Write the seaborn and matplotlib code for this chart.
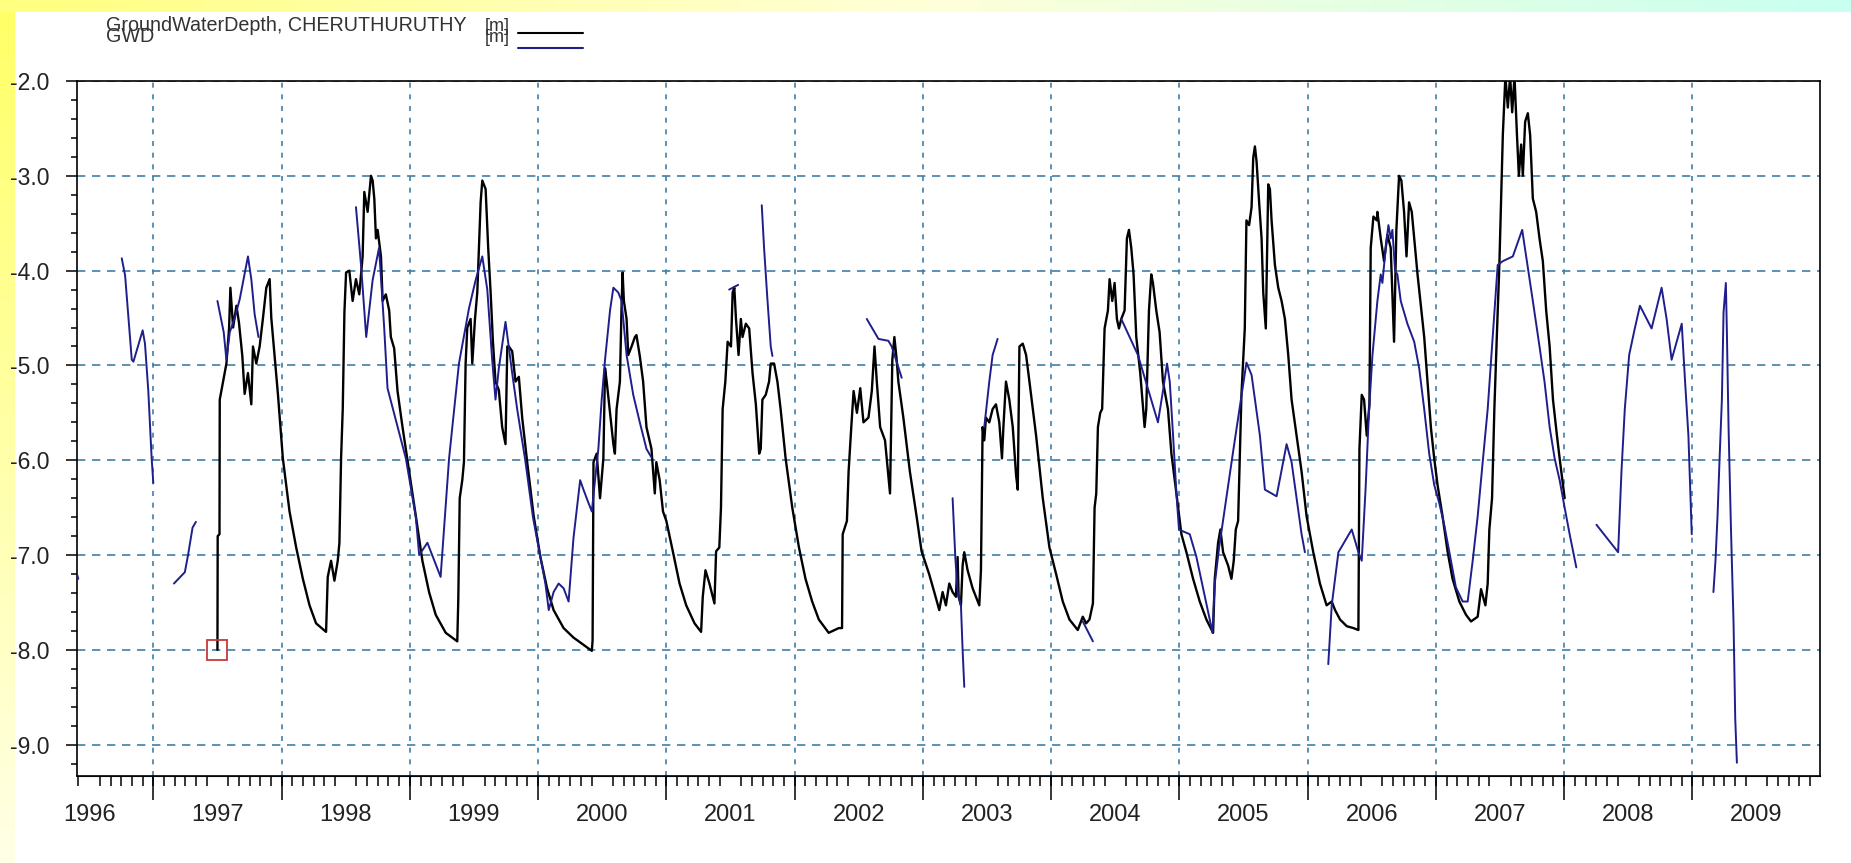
import numpy as np
import pandas as pd
import seaborn as sns
import matplotlib.pyplot as plt
import matplotlib.ticker as mtick
from matplotlib.lines import Line2D
from matplotlib.colors import LinearSegmentedColormap

# GroundWaterDepth, CHERUTHURUTHY (black, decimal years / metres)
cher_t = [1997.500, 1997.502, 1997.516, 1997.518, 1997.544, 1997.570, 1997.591, 1997.601, 1997.622, 1997.648,
          1997.668, 1997.694, 1997.712, 1997.738, 1997.764, 1997.777, 1997.803, 1997.829, 1997.855, 1997.881,
          1997.907, 1997.920, 1997.946, 1997.972, 1998.010, 1998.062, 1998.114, 1998.166, 1998.218, 1998.269,
          1998.347, 1998.360, 1998.386, 1998.412, 1998.438, 1998.451, 1998.464, 1998.477, 1998.490, 1998.503,
          1998.528, 1998.554, 1998.580, 1998.606, 1998.632, 1998.645, 1998.671, 1998.697, 1998.710, 1998.723,
          1998.736, 1998.749, 1998.775, 1998.788, 1998.813, 1998.839, 1998.852, 1998.878, 1998.904, 1998.943,
          1998.995, 1999.047, 1999.098, 1999.150, 1999.202, 1999.280, 1999.370, 1999.378, 1999.389, 1999.409,
          1999.422, 1999.435, 1999.448, 1999.474, 1999.487, 1999.508, 1999.526, 1999.552, 1999.565, 1999.591,
          1999.611, 1999.630, 1999.648, 1999.668, 1999.694, 1999.720, 1999.746, 1999.760, 1999.772, 1999.798,
          1999.824, 1999.850, 1999.876, 1999.915, 1999.966, 2000.018, 2000.070, 2000.121, 2000.199, 2000.276,
          2000.419, 2000.425, 2000.432, 2000.457, 2000.483, 2000.509, 2000.522, 2000.535, 2000.561, 2000.587,
          2000.599, 2000.612, 2000.638, 2000.651, 2000.659, 2000.669, 2000.690, 2000.703, 2000.729, 2000.755,
          2000.767, 2000.793, 2000.819, 2000.845, 2000.884, 2000.910, 2000.922, 2000.948, 2000.974, 2001.000,
          2001.052, 2001.103, 2001.155, 2001.220, 2001.271, 2001.284, 2001.305, 2001.336, 2001.375, 2001.388,
          2001.413, 2001.426, 2001.439, 2001.460, 2001.478, 2001.504, 2001.517, 2001.530, 2001.543, 2001.563,
          2001.581, 2001.594, 2001.620, 2001.646, 2001.672, 2001.698, 2001.724, 2001.736, 2001.749, 2001.775,
          2001.801, 2001.814, 2001.840, 2001.866, 2001.891, 2001.930, 2001.982, 2002.034, 2002.085, 2002.137,
          2002.189, 2002.266, 2002.344, 2002.370, 2002.375, 2002.408, 2002.421, 2002.442, 2002.460, 2002.486,
          2002.512, 2002.537, 2002.576, 2002.602, 2002.623, 2002.641, 2002.667, 2002.705, 2002.744, 2002.762,
          2002.778, 2002.796, 2002.809, 2002.848, 2002.899, 2002.951, 2002.990, 2003.049, 2003.089, 2003.128,
          2003.154, 2003.180, 2003.206, 2003.232, 2003.258, 2003.271, 2003.279, 2003.297, 2003.310, 2003.323,
          2003.349, 2003.388, 2003.440, 2003.453, 2003.466, 2003.479, 2003.492, 2003.518, 2003.544, 2003.570,
          2003.596, 2003.617, 2003.628, 2003.648, 2003.674, 2003.701, 2003.727, 2003.740, 2003.753, 2003.779,
          2003.805, 2003.831, 2003.883, 2003.935, 2003.987, 2004.039, 2004.091, 2004.143, 2004.208, 2004.247,
          2004.273, 2004.299, 2004.326, 2004.339, 2004.352, 2004.365, 2004.383, 2004.398, 2004.417, 2004.443,
          2004.456, 2004.477, 2004.495, 2004.513, 2004.529, 2004.547, 2004.573, 2004.591, 2004.607, 2004.625,
          2004.643, 2004.664, 2004.695, 2004.729, 2004.742, 2004.763, 2004.781, 2004.794, 2004.820, 2004.846,
          2004.872, 2004.911, 2004.938, 2004.977, 2005.016, 2005.055, 2005.107, 2005.159, 2005.211, 2005.263,
          2005.276, 2005.302, 2005.320, 2005.341, 2005.380, 2005.406, 2005.424, 2005.440, 2005.458, 2005.484,
          2005.510, 2005.523, 2005.544, 2005.563, 2005.576, 2005.589, 2005.602, 2005.622, 2005.641, 2005.654,
          2005.674, 2005.693, 2005.706, 2005.719, 2005.745, 2005.771, 2005.797, 2005.823, 2005.849, 2005.875,
          2005.914, 2005.953, 2005.992, 2006.044, 2006.096, 2006.148, 2006.188, 2006.214, 2006.253, 2006.305,
          2006.357, 2006.396, 2006.404, 2006.422, 2006.440, 2006.461, 2006.482, 2006.492, 2006.513, 2006.539,
          2006.544, 2006.570, 2006.596, 2006.622, 2006.648, 2006.674, 2006.692, 2006.713, 2006.731, 2006.752,
          2006.771, 2006.791, 2006.812, 2006.831, 2006.857, 2006.883, 2006.909, 2006.935, 2006.961, 2006.987,
          2007.013, 2007.052, 2007.091, 2007.130, 2007.183, 2007.235, 2007.274, 2007.326, 2007.352, 2007.386,
          2007.404, 2007.417, 2007.438, 2007.456, 2007.475, 2007.495, 2007.522, 2007.542, 2007.561, 2007.579,
          2007.595, 2007.613, 2007.631, 2007.647, 2007.665, 2007.678, 2007.696, 2007.717, 2007.735, 2007.756,
          2007.782, 2007.808, 2007.834, 2007.860, 2007.887, 2007.913, 2007.944, 2007.965, 2008.004]
cher_v = [-8.00, -6.80, -6.78, -5.36, -5.17, -4.98, -4.60, -4.18, -4.60, -4.37,
          -4.55, -4.90, -5.30, -5.08, -5.41, -4.80, -4.98, -4.80, -4.50, -4.18,
          -4.09, -4.50, -4.90, -5.31, -5.98, -6.54, -6.92, -7.25, -7.53, -7.72,
          -7.81, -7.23, -7.06, -7.27, -7.06, -6.87, -5.98, -5.46, -4.44, -4.02,
          -4.00, -4.32, -4.09, -4.25, -3.85, -3.17, -3.38, -3.00, -3.05, -3.24,
          -3.66, -3.57, -3.85, -4.32, -4.25, -4.42, -4.70, -4.82, -5.27, -5.65,
          -6.12, -6.59, -7.06, -7.39, -7.63, -7.82, -7.91, -7.46, -6.40, -6.21,
          -6.02, -4.98, -4.60, -4.51, -4.98, -4.51, -4.23, -3.28, -3.05, -3.14,
          -3.76, -4.23, -4.75, -5.17, -5.26, -5.65, -5.83, -4.80, -4.80, -4.85,
          -5.17, -5.12, -5.55, -6.02, -6.59, -7.02, -7.35, -7.58, -7.77, -7.87,
          -8.01, -7.90, -6.02, -5.93, -6.40, -5.98, -5.03, -5.17, -5.50, -5.83,
          -5.93, -5.46, -5.17, -4.37, -4.02, -4.32, -4.51, -4.89, -4.80, -4.70,
          -4.68, -4.90, -5.17, -5.65, -5.88, -6.35, -6.02, -6.21, -6.54, -6.64,
          -6.97, -7.30, -7.53, -7.72, -7.81, -7.44, -7.16, -7.30, -7.51, -6.96,
          -6.92, -6.50, -5.46, -5.17, -4.75, -4.80, -4.23, -4.18, -4.51, -4.89,
          -4.51, -4.70, -4.56, -4.61, -5.08, -5.41, -5.93, -5.88, -5.36, -5.31,
          -5.17, -4.98, -4.98, -5.17, -5.46, -5.98, -6.50, -6.92, -7.25, -7.49,
          -7.68, -7.82, -7.77, -7.77, -6.78, -6.64, -6.12, -5.65, -5.27, -5.50,
          -5.24, -5.60, -5.55, -5.27, -4.80, -5.17, -5.65, -5.79, -6.35, -4.94,
          -4.70, -4.94, -5.17, -5.55, -6.12, -6.59, -6.96, -7.20, -7.39, -7.58,
          -7.39, -7.53, -7.30, -7.39, -7.44, -7.02, -7.44, -7.53, -7.11, -6.97,
          -7.16, -7.35, -7.53, -7.16, -5.65, -5.79, -5.55, -5.60, -5.46, -5.41,
          -5.60, -5.98, -5.65, -5.17, -5.36, -5.65, -6.16, -6.31, -4.80, -4.77,
          -4.89, -5.17, -5.74, -6.40, -6.92, -7.20, -7.49, -7.68, -7.79, -7.65,
          -7.72, -7.68, -7.51, -6.50, -6.35, -5.65, -5.50, -5.46, -4.61, -4.42,
          -4.09, -4.32, -4.13, -4.51, -4.61, -4.51, -4.42, -3.66, -3.57, -3.76,
          -4.04, -4.70, -5.08, -5.65, -5.46, -4.42, -4.04, -4.13, -4.42, -4.65,
          -5.17, -5.46, -5.93, -6.35, -6.78, -6.97, -7.25, -7.49, -7.68, -7.82,
          -7.25, -6.87, -6.73, -6.97, -7.11, -7.25, -7.06, -6.73, -6.64, -5.31,
          -4.61, -3.47, -3.52, -3.33, -2.81, -2.69, -2.85, -3.28, -3.66, -4.23,
          -4.61, -3.09, -3.14, -3.47, -3.94, -4.18, -4.32, -4.51, -4.89, -5.36,
          -5.74, -6.12, -6.59, -6.97, -7.30, -7.53, -7.49, -7.58, -7.68, -7.75,
          -7.77, -7.79, -5.88, -5.31, -5.36, -5.74, -5.41, -3.76, -3.43, -3.47,
          -3.38, -3.66, -3.90, -3.62, -3.76, -4.75, -3.57, -3.00, -3.05, -3.38,
          -3.85, -3.28, -3.38, -3.66, -4.04, -4.37, -4.70, -5.17, -5.65, -5.98,
          -6.26, -6.59, -6.96, -7.25, -7.49, -7.63, -7.70, -7.65, -7.36, -7.53,
          -7.30, -6.73, -6.40, -5.46, -4.70, -3.94, -2.57, -1.95, -2.28, -1.95,
          -2.33, -1.95, -2.53, -3.00, -2.67, -3.00, -2.43, -2.34, -2.57, -3.24,
          -3.38, -3.66, -3.90, -4.42, -4.80, -5.36, -5.74, -5.98, -6.40]

# GWD (blue), observed in separate runs
gwd_t = [1996.384, 1996.400, 1996.415,
         1996.754, 1996.780, 1996.832, 1996.845, 1996.917, 1996.935, 1996.961, 1996.987, 1997.000,
         1997.161, 1997.246, 1997.272, 1997.306, 1997.332,
         1997.500, 1997.549, 1997.570, 1997.596, 1997.635, 1997.674, 1997.738, 1997.764, 1997.790, 1997.820,
         1998.580, 1998.620, 1998.660, 1998.710, 1998.760, 1998.800, 1998.826, 1998.969, 1999.047, 1999.073,
         1999.137, 1999.240, 1999.306, 1999.383, 1999.461, 1999.513, 1999.565, 1999.604, 1999.642, 1999.668,
         1999.694, 1999.746, 1999.798, 1999.837, 1999.900, 1999.960, 2000.018, 2000.057, 2000.083, 2000.121,
         2000.160, 2000.199, 2000.238, 2000.276, 2000.328, 2000.354, 2000.393, 2000.419, 2000.444, 2000.470,
         2000.496, 2000.522, 2000.561, 2000.587, 2000.625, 2000.651, 2000.690, 2000.742, 2000.793, 2000.845,
         2000.884,
         2001.490, 2001.560,
         2001.744, 2001.762, 2001.788, 2001.814, 2001.827,
         2002.563, 2002.654, 2002.731, 2002.757, 2002.800, 2002.835,
         2003.232, 2003.253, 2003.271, 2003.297, 2003.310, 2003.323,
         2003.479, 2003.518, 2003.544, 2003.583,
         2004.247, 2004.326,
         2004.547, 2004.677, 2004.833, 2004.872, 2004.904, 2004.925, 2004.951, 2004.977, 2004.997, 2005.029,
         2005.081, 2005.133, 2005.185, 2005.237, 2005.258, 2005.276, 2005.289, 2005.310, 2005.420, 2005.523,
         2005.563, 2005.628, 2005.667, 2005.758, 2005.836, 2005.875, 2005.914, 2005.953, 2005.979,
         2006.161, 2006.188, 2006.240, 2006.344, 2006.396, 2006.422, 2006.452, 2006.478, 2006.505, 2006.544,
         2006.570, 2006.583, 2006.609, 2006.630, 2006.648, 2006.661, 2006.682, 2006.700, 2006.726, 2006.778,
         2006.831, 2006.870, 2006.909, 2006.948, 2006.987, 2007.026, 2007.065, 2007.104, 2007.156, 2007.209,
         2007.248, 2007.287, 2007.326, 2007.365, 2007.404, 2007.443, 2007.482, 2007.522, 2007.600, 2007.673,
         2007.704, 2007.756, 2007.808, 2007.847, 2007.887, 2007.926, 2007.965, 2008.004, 2008.043, 2008.095,
         2008.252, 2008.421, 2008.447, 2008.473, 2008.507, 2008.551, 2008.591, 2008.682, 2008.760, 2008.799,
         2008.838, 2008.917, 2008.943, 2008.969, 2008.995,
         2009.164, 2009.180, 2009.196, 2009.211, 2009.230, 2009.243, 2009.261, 2009.269, 2009.282, 2009.300,
         2009.321, 2009.334, 2009.347]
gwd_v = [-7.05, -7.18, -7.25,
         -3.87, -4.05, -4.94, -4.96, -4.63, -4.77, -5.27, -5.98, -6.24,
         -7.30, -7.18, -6.99, -6.71, -6.65,
         -4.32, -4.65, -4.94, -4.65, -4.50, -4.30, -3.85, -4.09, -4.46, -4.70,
         -3.33, -3.95, -4.70, -4.10, -3.76, -4.60, -5.24, -5.98, -6.60, -7.00,
         -6.87, -7.23, -5.98, -4.98, -4.40, -4.10, -3.85, -4.20, -4.94, -5.36,
         -5.03, -4.54, -5.08, -5.46, -6.00, -6.60, -7.02, -7.30, -7.58, -7.39,
         -7.30, -7.35, -7.49, -6.82, -6.21, -6.31, -6.45, -6.54, -6.21, -5.88,
         -5.36, -4.94, -4.42, -4.18, -4.23, -4.32, -4.89, -5.31, -5.60, -5.88,
         -5.97,
         -4.20, -4.15,
         -3.31, -3.76, -4.30, -4.80, -4.90,
         -4.51, -4.72, -4.74, -4.80, -4.98, -5.13,
         -6.40, -7.02, -7.39, -7.53, -8.00, -8.39,
         -5.65, -5.17, -4.89, -4.72,
         -7.70, -7.91,
         -4.51, -4.89, -5.60, -5.27, -4.98, -5.17, -5.74, -6.35, -6.73, -6.75,
         -6.78, -7.02, -7.35, -7.68, -7.82, -7.30, -7.16, -6.92, -5.90, -4.97,
         -5.10, -5.74, -6.31, -6.38, -5.83, -6.02, -6.40, -6.78, -6.97,
         -8.15, -7.53, -6.97, -6.73, -6.97, -7.06, -6.30, -5.50, -4.90, -4.32,
         -4.04, -4.13, -3.76, -3.52, -3.66, -3.57, -4.00, -4.04, -4.32, -4.56,
         -4.75, -5.03, -5.46, -5.93, -6.26, -6.45, -6.68, -6.96, -7.34, -7.49,
         -7.49, -7.06, -6.59, -6.02, -5.46, -4.70, -3.94, -3.90, -3.85, -3.57,
         -3.85, -4.32, -4.80, -5.17, -5.65, -5.98, -6.21, -6.50, -6.78, -7.13,
         -6.68, -6.97, -6.12, -5.46, -4.89, -4.61, -4.37, -4.61, -4.18, -4.51,
         -4.94, -4.56, -5.17, -5.74, -6.78,
         -7.39, -7.06, -6.59, -6.02, -5.36, -4.44, -4.13, -4.65, -5.65, -6.68,
         -7.72, -8.72, -9.19]
gwd_seg = ([0] * 3 + [1] * 9 + [2] * 5 + [3] * 10 + [4] * 51 + [5] * 2 + [6] * 5 + [7] * 6 +
           [8] * 6 + [9] * 4 + [10] * 2 + [11] * 29 + [12] * 50 + [13] * 15 + [14] * 13)

years = list(range(1996, 2010))

cher = pd.DataFrame({"t": cher_t, "v": cher_v})
gwd = pd.DataFrame({"t": gwd_t, "v": gwd_v, "seg": gwd_seg})

sns.set_style("white")
plt.rcParams["font.family"] = ["Liberation Sans", "DejaVu Sans"]

fig = plt.figure(figsize=(18.51, 8.63), dpi=100)

# yellow / cyan frame of the screenshot
bg = fig.add_axes([0, 0, 1, 1], zorder=-10)
bg.set_xlim(0, 1)
bg.set_ylim(0, 1)
bg.axis("off")
left_grad = np.linspace(0, 1, 100)[:, None]
bg.imshow(left_grad, extent=[0, 14 / 1851, 0, 1], aspect="auto", origin="lower",
          cmap=LinearSegmentedColormap.from_list("ly", ["#FFFFE6", "#FFFF66"]))
top_grad = np.linspace(0, 1, 100)[None, :]
bg.imshow(top_grad, extent=[0, 1, 1 - 12 / 863, 1], aspect="auto",
          cmap=LinearSegmentedColormap.from_list("tc", ["#FFFF80", "#FFFFD8", "#C8FFF0"]))

ax = fig.add_axes([77 / 1851, 1 - 776 / 863, (1820 - 77) / 1851, (776 - 81) / 863])
grid_col = "#3f7fa8"
for yr in years[1:]:
    ax.axvline(yr, color=grid_col, lw=1.2, ls=(0, (3, 4)), zorder=1)

sns.lineplot(data=cher, x="t", y="v", color="black", lw=1.7, sort=False, estimator=None, ax=ax, zorder=3)
sns.lineplot(data=gwd, x="t", y="v", units="seg", estimator=None, color="#1e1e8c", lw=1.4,
             sort=False, ax=ax, zorder=4)
ax.plot(cher_t[:1], cher_v[:1], marker="s", ms=14, mfc="none", mec="#c43a3a", mew=1.3, ls="none", zorder=5)

ax.set_xlim(1996.405, 2009.995)
ax.set_ylim(-9.33, -2.0)
ax.set_xlabel("")
ax.set_ylabel("")

ax.yaxis.set_major_locator(mtick.MultipleLocator(1.0))
ax.yaxis.set_minor_locator(mtick.MultipleLocator(0.2))
ax.yaxis.set_major_formatter(mtick.FormatStrFormatter("%.1f"))
ax.yaxis.grid(True, which="major", color=grid_col, lw=1.2, ls=(0, (5, 4)), zorder=1)
ax.set_axisbelow(True)

ax.set_xticks([y + 0.5 for y in years])
ax.set_xticklabels([str(y) for y in years])
ax.xaxis.set_minor_locator(mtick.MultipleLocator(1 / 12))
ax.tick_params(axis="x", which="major", length=0, pad=20, labelsize=17, labelcolor="#222222")
ax.tick_params(axis="x", which="minor", length=7.5, width=1.1, direction="out", bottom=True, color="black")
ax.tick_params(axis="y", which="major", length=7.9, width=1.1, direction="out", left=True, pad=12,
               labelsize=16.5, labelcolor="#222222", color="black")
ax.tick_params(axis="y", which="minor", length=4.3, width=1.1, direction="out", left=True, color="black")

sec = ax.secondary_xaxis("bottom")
sec.set_xticks(years[1:])
sec.tick_params(axis="x", length=17.3, width=1.1, labelbottom=False, color="black")

for s in ax.spines.values():
    s.set_visible(True)
    s.set_color("black")
    s.set_linewidth(1.2)

# legend block in the header
fig.text(106 / 1851, 1 - 31 / 863, "GroundWaterDepth, CHERUTHURUTHY", fontsize=14.2, color="#333333", va="baseline")
fig.text(485 / 1851, 1 - 31 / 863, "[m]", fontsize=13, color="#333333", va="baseline")
fig.text(106 / 1851, 1 - 42 / 863, "GWD", fontsize=14.2, color="#333333", va="baseline")
fig.text(485 / 1851, 1 - 42 / 863, "[m]", fontsize=13, color="#333333", va="baseline")
fig.add_artist(Line2D([518 / 1851, 583 / 1851], [1 - 33 / 863] * 2, color="black", lw=1.5))
fig.add_artist(Line2D([518 / 1851, 583 / 1851], [1 - 48 / 863] * 2, color="#1e1e8c", lw=1.5))

fig.savefig("out.png", dpi=100)
